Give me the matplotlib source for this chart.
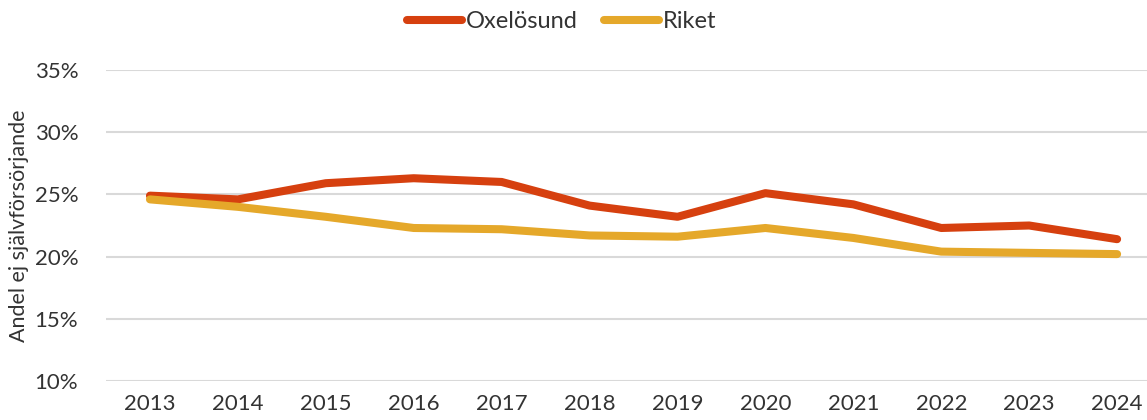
import matplotlib
matplotlib.use('Agg')
import matplotlib.pyplot as plt

years = ['2013', '2014', '2015', '2016', '2017', '2018', '2019', '2020',
         '2021', '2022', '2023', '2024']
oxelosund = [24.9, 24.6, 25.9, 26.3, 26.0, 24.1, 23.2, 25.1, 24.2, 22.3, 22.5, 21.4]
riket = [24.6, 24.0, 23.2, 22.3, 22.2, 21.7, 21.6, 22.3, 21.5, 20.4, 20.3, 20.2]
yticks = [10, 15, 20, 25, 30, 35]

plt.rcParams['font.family'] = ['Lato', 'DejaVu Sans']

fig = plt.figure(figsize=(11.47, 4.2), dpi=100)
ax = fig.add_axes([106 / 1147, 1 - 381 / 420, 1 - 106 / 1147, (381 - 70) / 420])

x = list(range(len(years)))
ax.plot(x, oxelosund, color='#D6400F', lw=5.8, solid_capstyle='round',
        solid_joinstyle='round', label='Oxelösund', zorder=3)
ax.plot(x, riket, color='#E5A82A', lw=5.8, solid_capstyle='round',
        solid_joinstyle='round', label='Riket', zorder=3)

ax.set_xlim(-0.5, 11.34)
ax.set_ylim(10, 35)
ax.set_yticks(yticks)
ax.set_yticklabels([f'{v}%' for v in yticks])
ax.set_xticks(x)
ax.set_xticklabels(years)
ax.yaxis.grid(True, color='#D9D9D9', lw=1.5)
ax.set_axisbelow(True)
for s in ax.spines.values():
    s.set_visible(False)
ax.tick_params(length=0, labelsize=16, colors='#333333')
ax.tick_params(axis='x', pad=9)
ax.tick_params(axis='y', pad=20)
ax.set_ylabel('Andel ej självförsörjande', fontsize=15.5, color='#333333')
ax.yaxis.set_label_coords(-77 / 1041, 0.5)

fig.legend(loc='center', bbox_to_anchor=(0.49, 1 - 22 / 420), ncol=2, frameon=False,
           fontsize=17, handlelength=2.3, handletextpad=0.2, columnspacing=1.1,
           labelcolor='#333333')

fig.savefig('out.png', dpi=100)
